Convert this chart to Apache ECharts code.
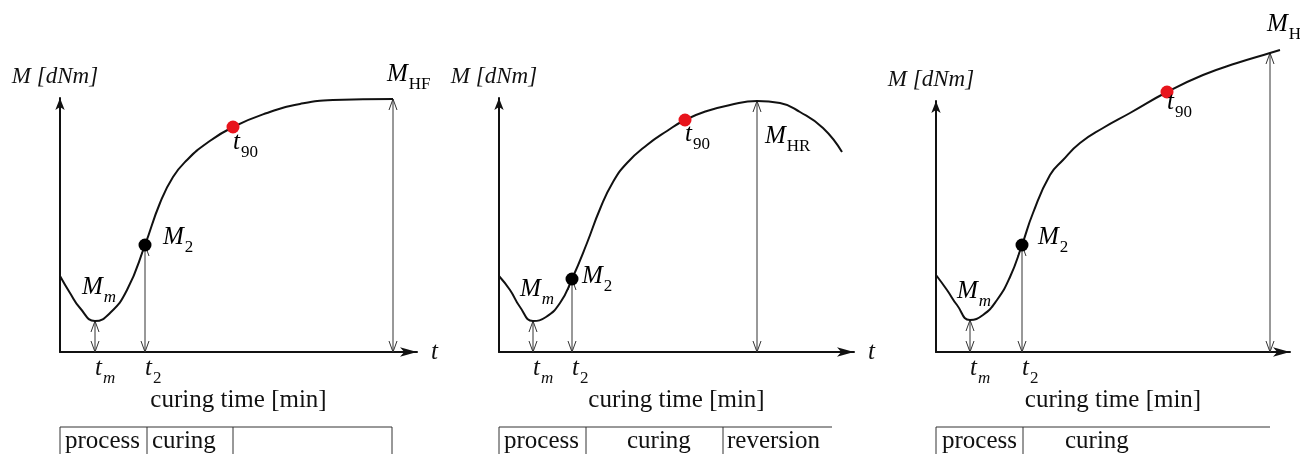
<!DOCTYPE html>
<html>
<head>
<meta charset="utf-8">
<script src="https://cdn.jsdelivr.net/npm/echarts@6/dist/echarts.min.js"></script>
<style>
html, body { margin: 0; padding: 0; background: #fff; }
#chartbox { width: 1300px; height: 454px; }
</style>
</head>
<body>
<div id="chartbox"></div>
<script>
// curves: [time, torque] in drawing units (origin = axis corner)
var curve1 = [[0,76],[10,59],[20,44],[35,31],[50,39],[67,62],[85,107],[100,149],[113,175],[127,192],[147,209],[173,225],[207,239],[240,248],[273,252],[333,253]];
var curve2 = [[0,76],[11,62],[21,45],[34,31],[47,35],[61,49],[73,73],[88,109],[101,143],[114,170],[128,189],[148,207],[168,221],[186,232],[208,241],[231,247],[258,251],[281,249],[301,240],[324,224],[343,200]];
var curve3 = [[0,77],[11,62],[21,47],[34,32],[47,37],[61,52],[74,75],[86,107],[97,139],[114,177],[127,192],[144,209],[167,224],[194,239],[231,260],[267,277],[301,289],[334,299],[344,302]];

// marked points: M2 (black) and t90 (red)
var m2Points = [[85,107],[73,73],[86,107]];
var t90Points = [[173,225],[186,232],[231,260]];

// double arrows: [time, top torque]
var arrows1 = [[35,31],[85,107],[333,253]];
var arrows2 = [[34,31],[73,73],[258,251]];
var arrows3 = [[34,32],[86,107],[334,299]];

// x tick labels (tm, t2)
var ticks1 = [35, 85];
var ticks2 = [34, 73];
var ticks3 = [34, 86];
var tickNames = ['{a|t}{si|m}', '{a|t}{s|2}'];

// annotations: [time, torque, main, subscript, italicSub]
var notes1 = [[22,64,'M','m',1],[103,114,'M','2',0],[173,209,'t','90',0],[327,277,'M','HF',0]];
var notes2 = [[21,62,'M','m',1],[83,75,'M','2',0],[186,217,'t','90',0],[266,215,'M','HR',0]];
var notes3 = [[21,60,'M','m',1],[102,114,'M','2',0],[231,249,'t','90',0],[331,327,'M','H',0]];

// phase table below each plot: divider times, line end, [time, text]
var tableDiv1 = [0, 87, 173, 332], tableEnd1 = 332, tableText1 = [[5,'process'],[92,'curing']];
var tableDiv2 = [0, 87, 224], tableEnd2 = 333, tableText2 = [[5,'process'],[128,'curing'],[228,'reversion']];
var tableDiv3 = [0, 87], tableEnd3 = 334, tableText3 = [[6,'process'],[129,'curing']];

var serif = 'Liberation Serif';
var rich = {
    a: { fontFamily: serif, fontStyle: 'italic', fontSize: 25, lineHeight: 26, verticalAlign: 'top', color: '#111' },
    s: { fontFamily: serif, fontSize: 17, lineHeight: 18, padding: [14, 0, 0, 1], verticalAlign: 'top', color: '#111' },
    si: { fontFamily: serif, fontStyle: 'italic', fontSize: 17, lineHeight: 18, padding: [14, 0, 0, 1], verticalAlign: 'top', color: '#111' }
};

function arrowRender(params, api) {
    var p0 = api.coord([api.value(0), 0]);
    var p1 = api.coord([api.value(0), api.value(1)]);
    var x = p0[0], yb = p0[1], yt = p1[1];
    var st = { stroke: '#333', lineWidth: 1, fill: null };
    return {
        type: 'group',
        children: [
            { type: 'line', shape: { x1: x, y1: yb, x2: x, y2: yt }, style: st },
            { type: 'polyline', shape: { points: [[x - 4, yt + 11], [x, yt], [x + 4, yt + 11]] }, style: st },
            { type: 'polyline', shape: { points: [[x - 4, yb - 11], [x, yb], [x + 4, yb - 11]] }, style: st }
        ]
    };
}

function noteRender(list) {
    return function (params, api) {
        var n = list[params.dataIndex];
        var p = api.coord([n[0], n[1]]);
        return {
            type: 'text',
            x: p[0], y: p[1] - 13,
            style: {
                text: '{a|' + n[2] + '}{' + (n[4] ? 'si' : 's') + '|' + n[3] + '}',
                rich: rich, align: 'left', verticalAlign: 'top'
            }
        };
    };
}

function tableRender(divs, end, texts) {
    return function (params, api) {
        var o = api.coord([0, 0]);
        var top = o[1] + 75;
        var st = { stroke: '#333', lineWidth: 1, fill: null };
        var kids = [{ type: 'line', shape: { x1: o[0], y1: top, x2: api.coord([end, 0])[0], y2: top }, style: st }];
        divs.forEach(function (d) {
            var x = api.coord([d, 0])[0];
            kids.push({ type: 'line', shape: { x1: x, y1: top, x2: x, y2: top + 40 }, style: st });
        });
        texts.forEach(function (t) {
            kids.push({
                type: 'text', x: api.coord([t[0], 0])[0], y: top + 14,
                style: { text: t[1], fontFamily: serif, fontSize: 25, fill: '#111', align: 'left', verticalAlign: 'middle' }
            });
        });
        return { type: 'group', children: kids };
    };
}

var grids = [
    { left: 60, top: 98, width: 357, height: 254 },
    { left: 499, top: 98, width: 355, height: 254 },
    { left: 936, top: 101, width: 354, height: 251 }
];
var tList = [ticks1, ticks2, ticks3];
var xAxes = [], yAxes = [], series = [];
var curves = [curve1, curve2, curve3];
var arrowsList = [arrows1, arrows2, arrows3];
var notesList = [notes1, notes2, notes3];
var tables = [[tableDiv1, tableEnd1, tableText1], [tableDiv2, tableEnd2, tableText2], [tableDiv3, tableEnd3, tableText3]];

grids.forEach(function (g, i) {
    g.outerBoundsMode = 'none';
    xAxes.push({
        gridIndex: i, type: 'value', min: 0, max: g.width, position: 'bottom',
        name: i < 2 ? 't' : '', nameLocation: 'end', nameGap: 14,
        nameTextStyle: { fontFamily: serif, fontStyle: 'italic', fontSize: 25, color: '#111' },
        axisLine: { lineStyle: { color: '#111', width: 2 }, symbol: ['none', 'arrow'], symbolSize: [7, 17] },
        axisTick: { show: false },
        splitLine: { show: false },
        axisLabel: {
            customValues: tList[i], margin: 4, align: 'left',
            formatter: function (v) { return tickNames[tList[i].indexOf(v)]; },
            rich: rich
        }
    });
    xAxes.push({
        gridIndex: i, type: 'value', min: 0, max: g.width, position: 'bottom',
        name: 'curing time [min]', nameLocation: 'middle', nameGap: 36,
        nameTextStyle: { fontFamily: serif, fontSize: 25, color: '#111' },
        axisLine: { show: false }, axisTick: { show: false }, axisLabel: { show: false }, splitLine: { show: false }
    });
    yAxes.push({
        gridIndex: i, type: 'value', min: 0, max: g.height,
        name: 'M [dNm]', nameLocation: 'end', nameGap: 10,
        nameTextStyle: { fontFamily: serif, fontStyle: 'italic', fontSize: 23, color: '#111', padding: [0, 10, 0, 0] },
        axisLine: { lineStyle: { color: '#111', width: 2 }, symbol: ['none', 'arrow'], symbolSize: [7, 12] },
        axisTick: { show: false }, axisLabel: { show: false }, splitLine: { show: false }
    });
    series.push({
        type: 'line', xAxisIndex: 2 * i, yAxisIndex: i, data: curves[i], smooth: 0.5,
        showSymbol: false, clip: false, lineStyle: { color: '#111', width: 2 }, z: 3
    });
    series.push({
        type: 'custom', xAxisIndex: 2 * i, yAxisIndex: i, data: arrowsList[i], renderItem: arrowRender, clip: false, z: 2
    });
    series.push({
        type: 'scatter', xAxisIndex: 2 * i, yAxisIndex: i, data: [m2Points[i]], symbolSize: 13, clip: false,
        itemStyle: { color: '#000', opacity: 1 }, z: 4
    });
    series.push({
        type: 'scatter', xAxisIndex: 2 * i, yAxisIndex: i, data: [t90Points[i]], symbolSize: 13, clip: false,
        itemStyle: { color: '#e8141c', opacity: 1 }, z: 4
    });
    series.push({
        type: 'custom', xAxisIndex: 2 * i, yAxisIndex: i, data: notesList[i], renderItem: noteRender(notesList[i]), clip: false, z: 5
    });
    series.push({
        type: 'custom', xAxisIndex: 2 * i, yAxisIndex: i, data: [[0, 0]],
        renderItem: tableRender(tables[i][0], tables[i][1], tables[i][2]), clip: false, z: 5
    });
});

var myChart = echarts.init(document.getElementById('chartbox'));
myChart.setOption({
    animation: false,
    backgroundColor: '#fff',
    grid: grids,
    xAxis: xAxes,
    yAxis: yAxes,
    series: series
});
</script>
</body>
</html>
